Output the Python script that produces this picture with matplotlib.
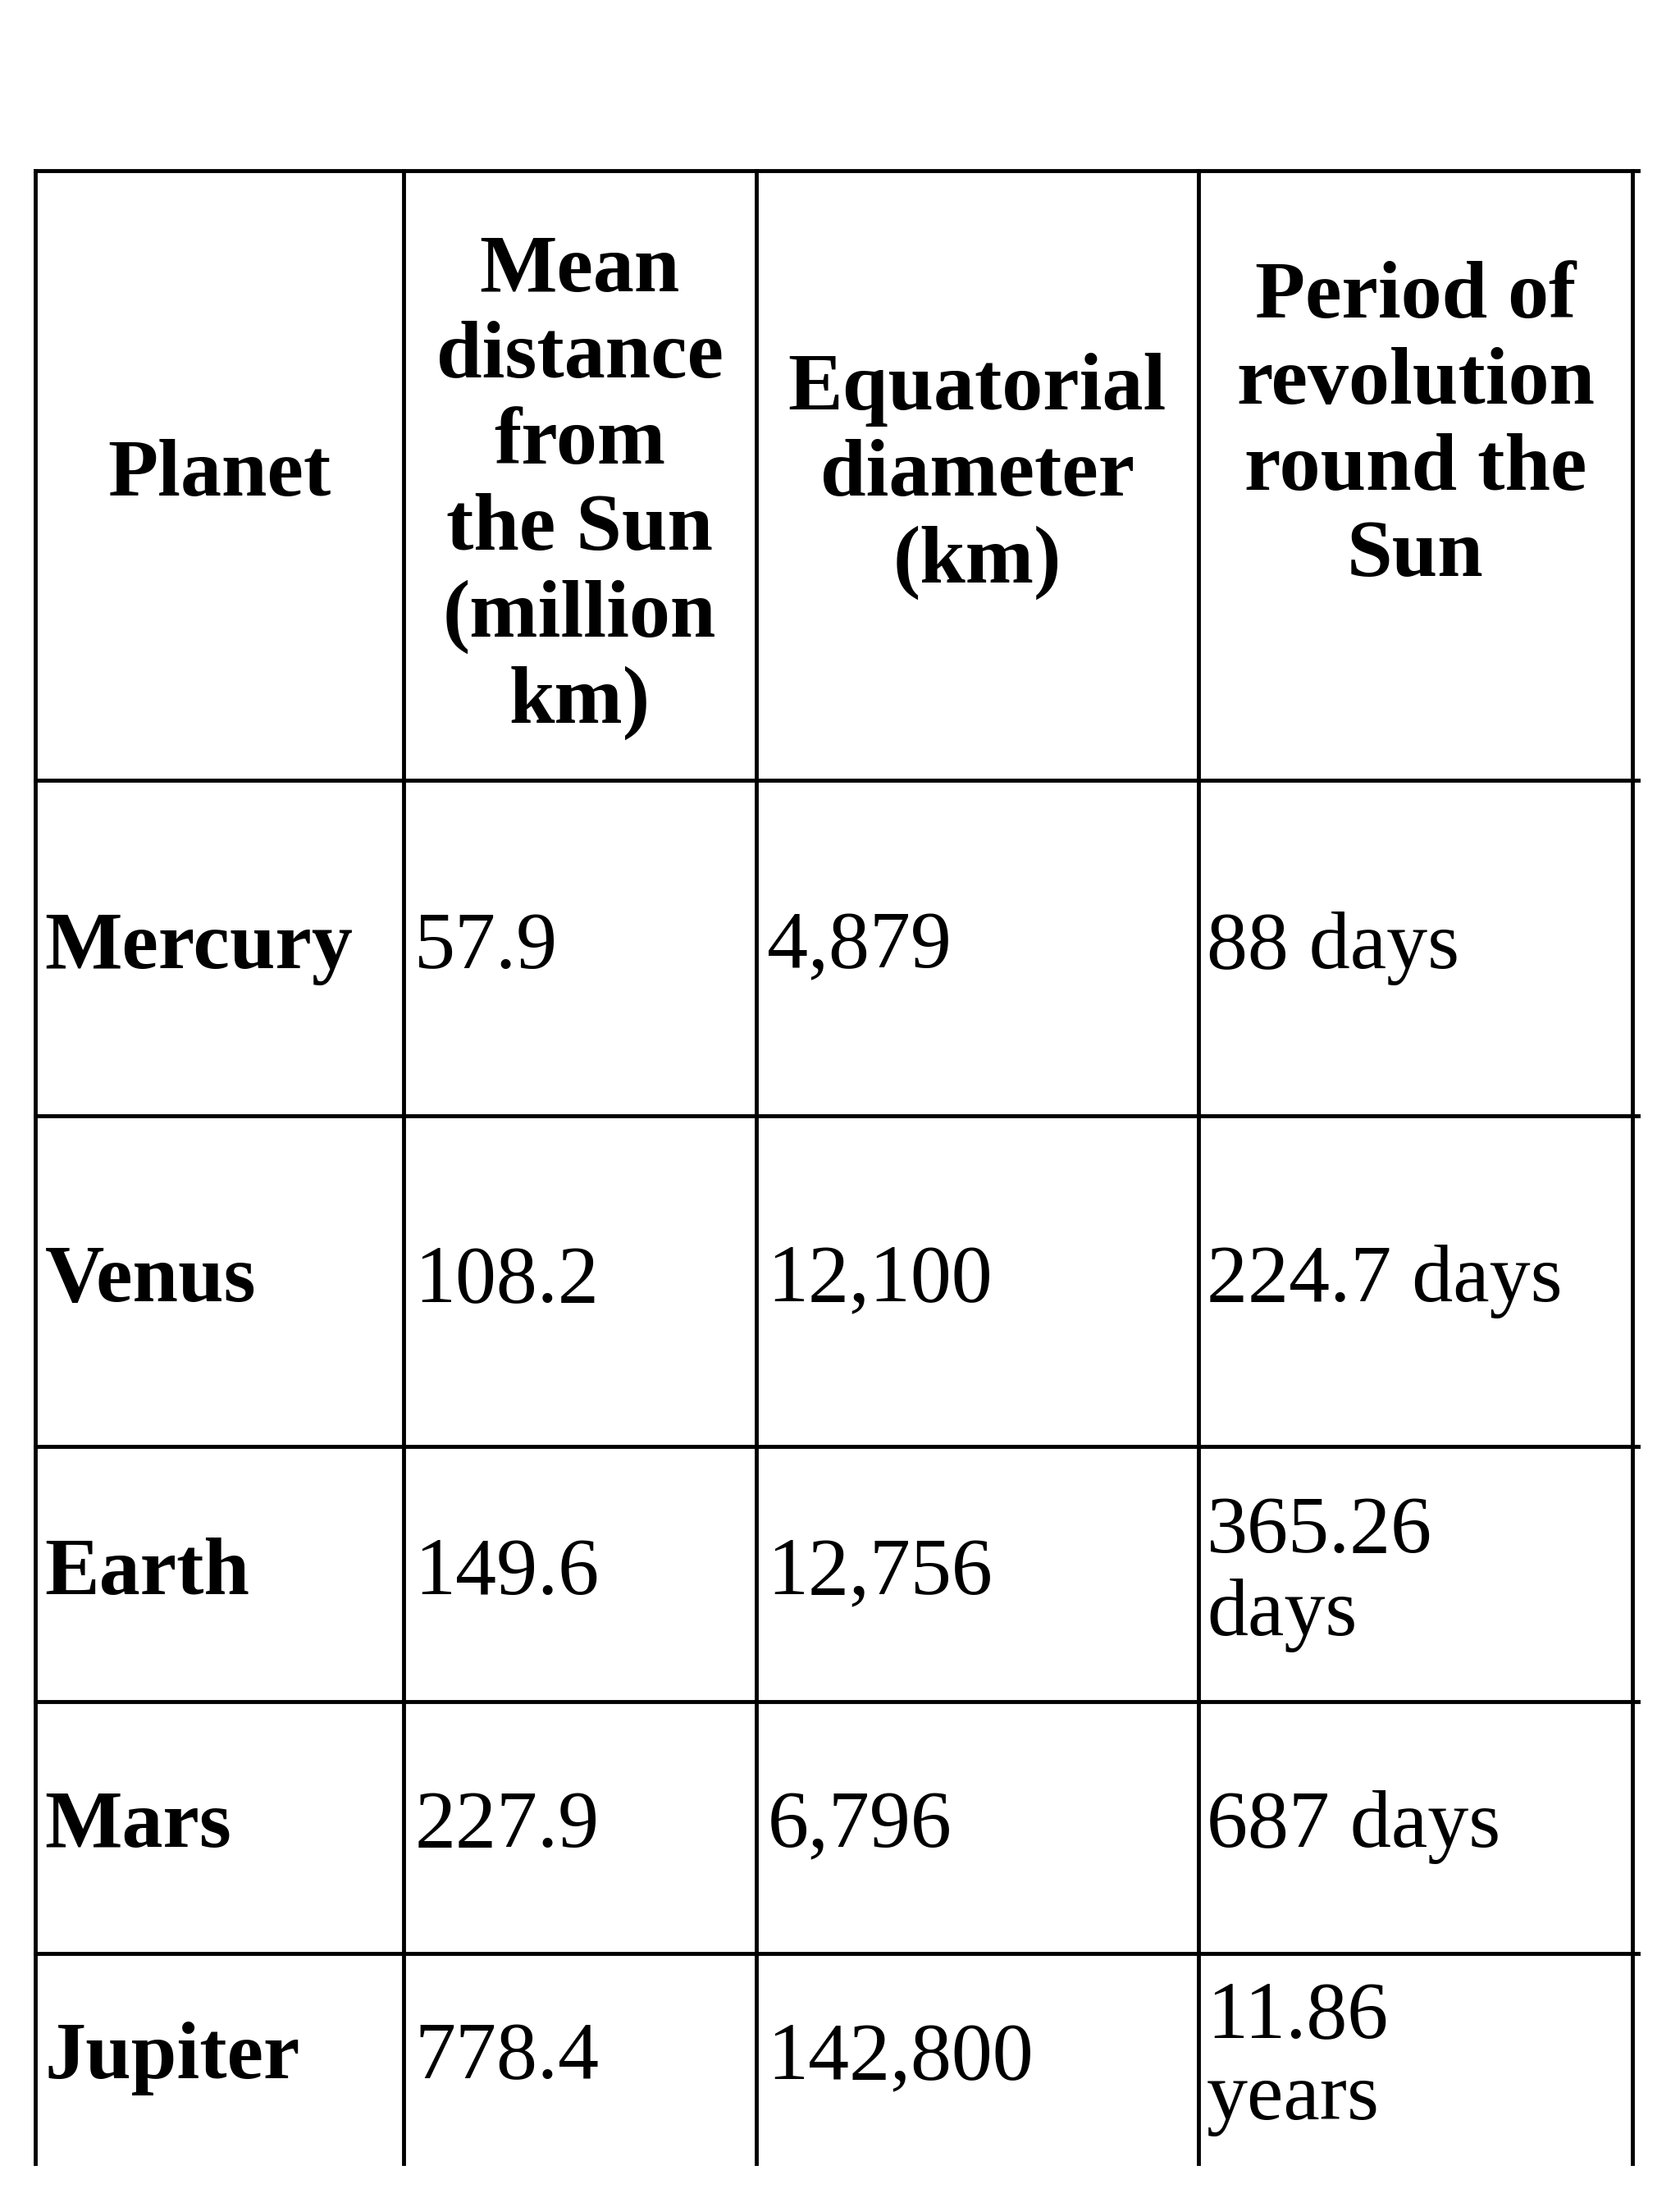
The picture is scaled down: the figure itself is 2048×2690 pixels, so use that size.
import matplotlib.pyplot as plt

planets = ['Mercury', 'Venus', 'Earth', 'Mars', 'Jupiter']
distance = ['57.9', '108.2', '149.6', '227.9', '778.4']
diameter = ['4,879', '12,100', '12,756', '6,796', '142,800']
period = ['88 days', '224.7 days', '365.26\ndays', '687 days', '11.86\nyears']
headers = ['Planet', 'Mean\ndistance\nfrom\nthe Sun\n(million\nkm)',
           'Equatorial\ndiameter\n(km)', 'Period of\nrevolution\nround the\nSun']

W, H = 1200, 1576
col_x = [25, 288, 540, 856, 1166]
row_y = [122, 557, 797, 1033, 1215, 1395]
bottom = 1545

fig = plt.figure(figsize=(20.48, 26.9), dpi=100)
ax = fig.add_axes([0, 0, 1, 1])
ax.set_xlim(0, W)
ax.set_ylim(H, 0)
ax.axis('off')

lw = 3.5
for x in col_x:
    ax.plot([x, x], [row_y[0], bottom], color='black', lw=lw)
for y in row_y:
    ax.plot([col_x[0], 1170], [y, y], color='black', lw=lw)

font = 'Liberation Serif'
fs = 72
header_y = [340, 348, 340, 305]
for i, h in enumerate(headers):
    cx = (col_x[i] + col_x[i + 1]) / 2
    ax.text(cx, header_y[i], h, ha='center', va='center', fontsize=fs, fontweight='bold',
            family=font, linespacing=1.22)

for r in range(len(planets)):
    cy = (row_y[r + 1] + (row_y[r + 2] if r + 2 < len(row_y) else bottom)) / 2
    ax.text(32, cy, planets[r], ha='left', va='center', fontsize=fs,
            fontweight='bold', family=font)
    ax.text(col_x[1] + 8, cy, distance[r], ha='left', va='center', fontsize=fs, family=font)
    ax.text(col_x[2] + 8, cy, diameter[r], ha='left', va='center', fontsize=fs, family=font)
    ax.text(col_x[3] + 6, cy, period[r], ha='left', va='center', fontsize=fs,
            family=font, linespacing=1.15)

fig.savefig('out.png', dpi=100, facecolor='white')
